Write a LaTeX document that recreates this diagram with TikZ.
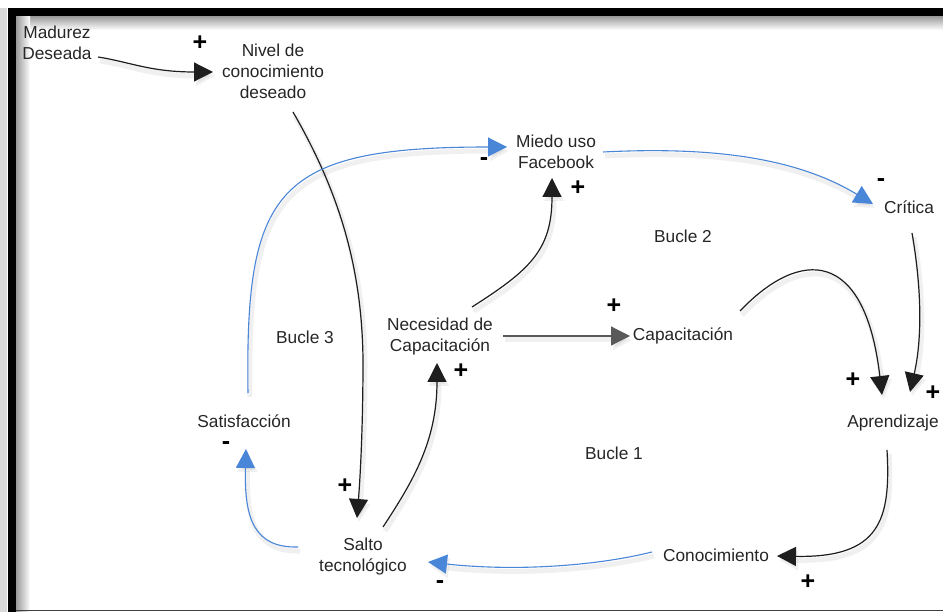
\documentclass[tikz,border=0pt]{standalone}
\usepackage{fontspec}
\setmainfont{Liberation Sans}
\usetikzlibrary{arrows.meta,calc}
\definecolor{loopblue}{HTML}{4A86D8}
\definecolor{linkgray}{HTML}{1E1E1E}
\begin{document}
\begin{tikzpicture}[x=1pt,y=-1pt,
  var/.style={font=\fontsize{17.3}{21}\selectfont, align=center, inner sep=0pt, text=black!85},
  sgn/.style={font=\fontsize{25}{25}\selectfont\bfseries, inner sep=0pt},
  shd/.style={preaction={draw=black, opacity=0.06, line width=5pt,
      transform canvas={shift={(2pt,-4pt)}}}},
  poslink/.style={shd, draw=linkgray, line width=1.2pt,
      -{Triangle[length=19pt,width=19pt]}},
  neglink/.style={shd, draw=loopblue, line width=1.1pt,
      -{Triangle[length=19pt,width=19pt]}}
]
\useasboundingbox (0,0) rectangle (943,612);
\fill[white] (0,0) rectangle (943,612);

% frame: heavy top and left rule with inner shading, thin bottom rule
\shade[top color=black!40, bottom color=white] (16,16) rectangle (943,30);
\shade[left color=black!40, right color=white] (16,16) rectangle (30,612);
\fill[black] (8,8) rectangle (943,16);
\fill[black] (8,8) rectangle (16,612);
\fill[black!15] (0,8) rectangle (7,612);
\fill[black!75] (16,609.5) rectangle (943,611);

% variables
\node[var] (mad) at (57,43) {Madurez\\Deseada};
\node[var] (niv) at (273,71) {Nivel de\\conocimiento\\deseado};
\node[var] (mie) at (556,152) {Miedo uso\\Facebook};
\node[var] (cri) at (909,207) {Crítica};
\node[var] (nec) at (440,337) {Necesidad de\\Capacitación};
\node[var] (cap) at (683,336) {Capacitación};
\node[var] (apr) at (893,423) {Aprendizaje};
\node[var] (con) at (716,555) {Conocimiento};
\node[var] (sal) at (363,557) {Salto\\tecnológico};
\node[var] (sat) at (244,421) {Satisfacción};

% loop names
\node[var] (b1) at (614,453) {Bucle 1};
\node[var] (b2) at (683,236) {Bucle 2};
\node[var] (b3) at (305,337) {Bucle 3};

% positive links
\draw[poslink] ($(mad)+(41,14)$) .. controls (130,62) and (150,72) .. ($(niv)+(-60,1)$);
\draw[poslink] ($(niv)+(20,41)$) .. controls (335,185) and (362,260) .. (363,360)
           .. controls (363,430) and (360,480) .. ($(sal)+(-6,-39)$);
\draw[poslink] ($(sal)+(20,-30)$) .. controls (414,480) and (437,440) .. ($(nec)+(-3,26)$);
\draw[poslink] ($(nec)+(32,-30)$) .. controls (530,270) and (552,250) .. ($(mie)+(-4,26)$);
\draw[poslink, draw=black!65] ($(nec)+(63,-1)$) -- ($(cap)+(-53,0)$);
\draw[poslink] ($(cap)+(57,-25)$) .. controls (800,248) and (865,248) .. ($(apr)+(-11,-28)$);
\draw[poslink] ($(cri)+(3,26)$) .. controls (922,290) and (922,340) .. ($(apr)+(17,-31)$);
\draw[poslink] ($(apr)+(-6,27)$) .. controls (891,520) and (880,558) .. ($(con)+(61,1)$);

% negative links
\draw[neglink] ($(con)+(-64,-3)$) .. controls (600,565) and (520,572) .. ($(sal)+(65,5)$);
\draw[neglink] ($(sal)+(-65,-10)$) .. controls (255,548) and (244,520) .. ($(sat)+(2,28)$);
\draw[neglink] ($(sat)+(4,-28)$) .. controls (245,190) and (275,147) .. ($(mie)+(-49,-5)$);
\draw[neglink] ($(mie)+(47,0)$) .. controls (720,146) and (800,160) .. ($(cri)+(-36,-3)$);

% polarity signs
\node[sgn] (p1) at (200,43) {+};
\node[sgn] (p2) at (345,486) {+};
\node[sgn] (p3) at (461,371) {+};
\node[sgn] (p4) at (578,188) {+};
\node[sgn] (p5) at (614,306) {+};
\node[sgn] (p6) at (853,380) {+};
\node[sgn] (p7) at (933,393) {+};
\node[sgn] (p8) at (808,582) {+};
\node[sgn] (m1) at (484,162) {-};
\node[sgn] (m2) at (881,183) {-};
\node[sgn] (m3) at (226,446) {-};
\node[sgn] (m4) at (440,585) {-};
\end{tikzpicture}
\end{document}
